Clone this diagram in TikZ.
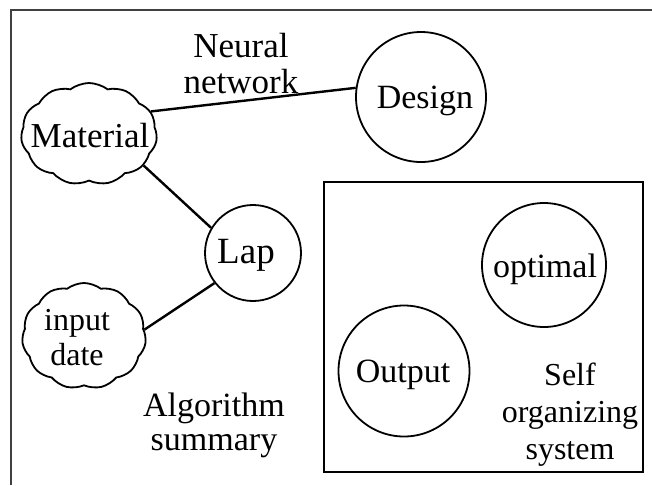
\documentclass[tikz,border=0pt]{standalone}
\usepackage{fontspec}
\setmainfont{Liberation Serif}
\usetikzlibrary{shapes.symbols}
\begin{document}
\begin{tikzpicture}[x=1pt,y=-1pt,
  lbl/.style={font=\fontsize{34}{36}\selectfont, align=center, inner sep=0pt, anchor=base},
  circ/.style={circle, draw, line width=1.8pt, inner sep=0pt},
  cld/.style={cloud, draw, line width=1.8pt, cloud puffs=11, cloud puff arc=75, inner sep=0pt},
  conn/.style={line width=2.4pt}]
\useasboundingbox (0,0) rectangle (652,485);
\draw[line width=1.3pt, black!75] (11,485) -- (11,10) -- (652,10);
% nodes
\node[cld, minimum width=136pt, minimum height=102pt] (mat) at (89,134) {};
\node[lbl, font=\fontsize{35}{36}\selectfont] (matt) at (90,147) {Material};
\node[cld, minimum width=124pt, minimum height=106pt] (inp) at (84,336) {};
\node[lbl, font=\fontsize{32}{35}\selectfont] (inpt) at (77,365) {input\\date};
\node[circ, minimum size=130pt] (des) at (421,97) {};
\node[lbl] (dest) at (425,108) {Design};
\node[circ, minimum size=96pt] (lap) at (253,253) {};
\node[lbl, font=\fontsize{37}{36}\selectfont] (lapt) at (246,263) {Lap};
\node[lbl, font=\fontsize{35}{36}\selectfont] (nn) at (241,93) {Neural\\network};
\node[lbl, font=\fontsize{34}{34}\selectfont] (alg) at (214,450) {Algorithm\\summary};
% box
\node[draw, line width=1.8pt, minimum width=319pt, minimum height=290pt, inner sep=0pt] (box) at (483.5,327) {};
\node[circ, minimum size=124pt] (opt) at (544,265) {};
\node[lbl] (optt) at (545,277) {optimal};
\node[circ, minimum size=131pt] (out) at (404,371) {};
\node[lbl] (outt) at (403,382) {Output};
\node[lbl, font=\fontsize{32}{37}\selectfont] (sos) at (570,459) {Self\\organizing\\system};
% connectors
\draw[conn] (mat.20) -- (des.172);
\draw[conn] (mat.-30) -- (lap.149);
\draw[conn] (inp.6) -- (lap.218);
\end{tikzpicture}
\end{document}
